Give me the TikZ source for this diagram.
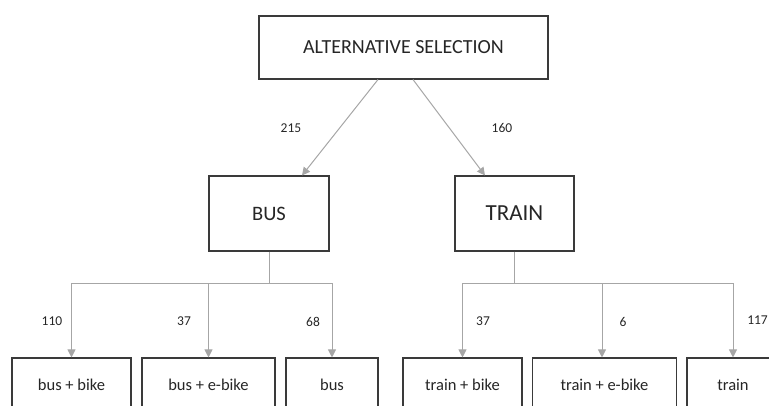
\documentclass[tikz,border=0pt]{standalone}
\usepackage{fontspec}
\setmainfont{Carlito}
\usetikzlibrary{arrows.meta,calc}
\definecolor{boxline}{HTML}{3A3A3A}
\definecolor{linkgray}{HTML}{A6A6A6}
\definecolor{inkgray}{HTML}{262626}
\begin{document}
\begin{tikzpicture}[x=1pt,y=1pt,
  box/.style={draw=boxline, line width=1.1pt, fill=white, text=inkgray, inner sep=0pt},
  leafbox/.style={box, minimum height=54pt, font=\fontsize{16.5}{18}\selectfont},
  link/.style={draw=linkgray, line width=1pt},
  flow/.style={link, -{Triangle[width=8pt,length=8pt]}},
  count/.style={text=inkgray, font=\fontsize{13.5}{15}\selectfont}]
\useasboundingbox (0,0) rectangle (769,-405);
\clip (0,0) rectangle (769,-405);

% top level
\node[box, minimum width=289pt, minimum height=63pt, font=\fontsize{20}{22}\selectfont]
  (sel) at (403.5,-47.5) {ALTERNATIVE SELECTION};

% mode level
\node[box, minimum width=120pt, minimum height=75pt, font=\fontsize{20.5}{22}\selectfont]
  (bus) at (269,-213.5) {BUS};
\node[box, minimum width=119pt, minimum height=75pt, font=\fontsize{23}{25}\selectfont]
  (train) at (514.5,-213.5) {TRAIN};

% alternatives
\node[leafbox, minimum width=119pt] (bb)  at (71.5,-385) {bus + bike};
\node[leafbox, minimum width=133pt] (beb) at (208.5,-385) {bus + e-bike};
\node[leafbox, minimum width=92pt]  (bo)  at (332,-385) {bus};
\node[leafbox, minimum width=119pt] (tb)  at (462.5,-385) {train + bike};
\node[leafbox, minimum width=144pt] (teb) at (604.5,-385) {train + e-bike};
\node[leafbox, minimum width=92pt]  (to)  at (733,-385) {train};

% first split
\draw[flow] (sel.south -| 378,0) -- (bus.north -| 302,0);
\draw[flow] (sel.south -| 413,0) -- (train.north -| 485,0);
\node[count] (n215) at (291,-128) {215};
\node[count] (n160) at (502,-128) {160};

% bus branches
\coordinate (bj) at ($(bus.south)+(0,-32)$);
\draw[link] (bus.south) -- (bj);
\draw[flow] (bj) -| (bb.north);
\draw[flow] (bj -| bb.north) -| (bo.north);
\draw[flow] (bj -| beb.north) -- (beb.north);

% train branches
\coordinate (tj) at ($(train.south)+(0,-32)$);
\draw[link] (train.south) -- (tj);
\draw[flow] (tj) -| (tb.north);
\draw[flow] (tj -| tb.north) -| (to.north);
\draw[flow] (tj -| 602,0) -- (teb.north -| 602,0);

\node[count] (n110) at (52,-321.5) {110};
\node[count] (n37a) at (184,-321.5) {37};
\node[count] (n68)  at (313,-321.5) {68};
\node[count] (n37b) at (483,-321.5) {37};
\node[count] (n6)   at (623,-321.5) {6};
\node[count, anchor=east, inner xsep=0pt] (n117) at (768,-320) {117};
\end{tikzpicture}
\end{document}
